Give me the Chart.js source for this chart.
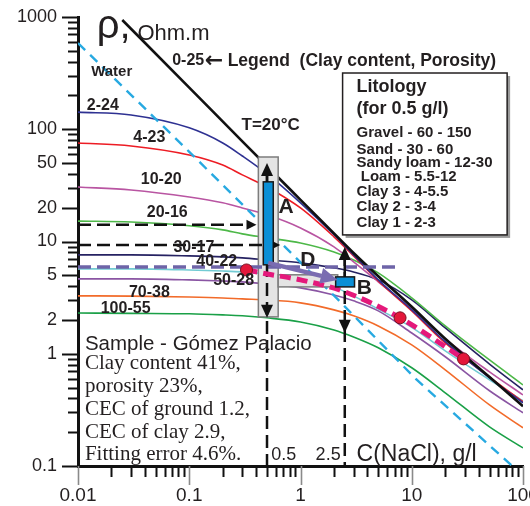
<!DOCTYPE html>
<html><head><meta charset="utf-8">
<script src="https://cdn.jsdelivr.net/npm/chart.js@4.4.1/dist/chart.umd.min.js"></script>
<style>html,body{margin:0;padding:0;background:#fff;overflow:hidden}#wrap{width:530px;height:506px;position:relative}</style>
</head><body><div id="wrap"><canvas id="c"></canvas></div>
<script>
// ---------------- DATA ----------------
const CONC = [0.01, 0.03, 0.1, 0.2, 0.3, 0.5, 1, 2, 3, 5, 10, 20, 50, 100];
const RHO_2_24   = [142, 134, 103, 75.5, 57.8, 40, 22.1, 11.5, 7.6, 4.55, 2.46, 1.28, 0.61, 0.366];
const RHO_4_23   = [75.5, 71, 59, 48, 39.2, 30.6, 19.9, 11.0, 7.45, 4.46, 2.41, 1.25, 0.62, 0.373];
const RHO_10_20  = [30.6, 28.8, 24.9, 22.1, 19.9, 17.3, 13.2, 8.96, 6.58, 4.37, 2.51, 1.36, 0.69, 0.43];
const RHO_20_16  = [15.2, 14.9, 13.8, 12.7, 11.7, 10.8, 9.7, 8.07, 6.85, 5.25, 3.15, 1.77, 0.88, 0.528];
const RHO_30_17  = [7.6, 7.6, 7.45, 7.3, 7.15, 6.85, 6.45, 5.82, 5.36, 4.55, 3.02, 1.70, 0.81, 0.477];
const RHO_40_22  = [5.7, 5.7, 5.58, 5.46, 5.36, 5.14, 4.74, 3.94, 3.28, 2.5, 1.72, 1.06, 0.586, 0.381];
const RHO_50_28  = [4.65, 4.65, 4.55, 4.45, 4.37, 4.19, 3.86, 3.34, 2.96, 2.41, 1.53, 0.94, 0.468, 0.298];
const RHO_70_38  = [3.28, 3.26, 3.2, 3.14, 3.08, 3.02, 2.84, 2.46, 2.18, 1.77, 1.2, 0.72, 0.35, 0.219];
const RHO_100_55 = [2.31, 2.29, 2.27, 2.22, 2.18, 2.09, 1.92, 1.63, 1.41, 1.13, 0.75, 0.449, 0.223, 0.145];

const CONC_0_25 = [0.025, 0.1, 0.3, 1, 2, 3, 5, 10, 20, 50, 100];
const RHO_0_25  = [940, 235, 78, 23.5, 11.8, 7.9, 4.9, 2.62, 1.36, 0.62, 0.34];

const CONC_WATER = [0.01, 0.1, 0.63, 2.2, 11, 100];
const RHO_WATER  = [586, 63, 10.3, 3.0, 0.59, 0.082];

const CONC_FIT = [0.327, 0.5, 1, 2.5, 7.85, 29.2];
const RHO_FIT  = [5.58, 5.14, 4.55, 3.56, 2.09, 0.90];

const CONC_SAMPLE = [0.327, 7.85, 29.2];
const RHO_SAMPLE  = [5.58, 2.09, 0.90];

const X_TICKS = [0.01, 0.1, 1, 10, 100];
const X_TICK_LABELS = ['0.01', '0.1', '1', '10', '100'];
const Y_TICKS = [0.1, 1, 2, 5, 10, 20, 50, 100, 1000];
const Y_TICK_LABELS = ['0.1', '1', '2', '5', '10', '20', '50', '100', '1000'];

const CURVE_NAMES = ['2-24', '4-23', '10-20', '20-16', '30-17', '40-22', '50-28', '70-38', '100-55'];
const LITOLOGY = ['Gravel - 60 - 150', 'Sand - 30 - 60', 'Sandy loam - 12-30', ' Loam - 5.5-12', 'Clay 3 - 4-5.5', 'Clay 2 - 3-4', 'Clay 1 - 2-3'];
const SAMPLE_LINES = ['Clay content 41%,', 'porosity 23%,', 'CEC of ground 1.2,', 'CEC of clay 2.9,', 'Fitting error 4.6%.'];

// ---------------- STYLE / PLACEMENT ----------------
const SANS = '"Liberation Sans", Arial, Helvetica, sans-serif';
const SERIF = '"Liberation Serif", "Times New Roman", Times, serif';
const CURVE_VALUES = [RHO_2_24, RHO_4_23, RHO_10_20, RHO_20_16, RHO_30_17, RHO_40_22, RHO_50_28, RHO_70_38, RHO_100_55];
const CURVE_COLORS = ['#2e3192', '#ed1c24', '#b955a2', '#4db848', '#262262', '#72cbd3', '#8a55a3', '#f26b2a', '#1aa047'];
// label anchors in data units (C, rho)
const CURVE_LABEL_AT = [[0.0167,164],[0.0438,83.6],[0.056,35.4],[0.0634,18.0],[0.110,8.77],[0.1767,6.58],[0.2505,4.46],[0.0438,3.49],[0.0268,2.51]];

const pts = (xs, ys) => xs.map((c, i) => ({x: c, y: ys[i]}));

const datasets = [];
CURVE_VALUES.forEach((vals, i) => datasets.push({
  label: CURVE_NAMES[i], data: pts(CONC, vals), borderColor: CURVE_COLORS[i],
  borderWidth: 1.6, pointRadius: 0, showLine: true, cubicInterpolationMode: 'monotone', order: 10
}));
datasets.push({label: '0-25', data: pts(CONC_0_25, RHO_0_25), borderColor: '#111', borderWidth: 2.6,
  pointRadius: 0, showLine: true, cubicInterpolationMode: 'monotone', order: 9});
datasets.push({label: 'Water', data: pts(CONC_WATER, RHO_WATER), borderColor: '#27a9e1', borderWidth: 2.4,
  borderDash: [10, 7], pointRadius: 0, showLine: true, tension: 0, order: 8});
const FIT_INDEX = datasets.length;
datasets.push({label: 'fit', data: pts(CONC_FIT, RHO_FIT), borderColor: '#e4197b', borderWidth: 5,
  borderDash: [11, 6], pointRadius: 0, showLine: true, cubicInterpolationMode: 'monotone', order: 2});
datasets.push({label: 'sample', data: pts(CONC_SAMPLE, RHO_SAMPLE), showLine: false, pointRadius: 6,
  pointBackgroundColor: '#e3173a', pointBorderColor: '#7a1020', pointBorderWidth: 1, order: 1});

function T(ctx, s, x, y, font, align, color, base) {
  ctx.save(); ctx.font = font; ctx.fillStyle = color || '#231f20';
  ctx.textAlign = align || 'left'; ctx.textBaseline = base || 'middle';
  ctx.fillText(s, x, y); ctx.restore();
}
function tri(ctx, p, color) {
  ctx.beginPath(); ctx.moveTo(p[0][0], p[0][1]);
  for (let i = 1; i < p.length; i++) ctx.lineTo(p[i][0], p[i][1]);
  ctx.closePath(); ctx.fillStyle = color; ctx.fill();
}
function dline(ctx, x1, y1, x2, y2, color, w, dash) {
  ctx.save(); ctx.beginPath(); ctx.setLineDash(dash || []); ctx.strokeStyle = color; ctx.lineWidth = w;
  ctx.moveTo(x1, y1); ctx.lineTo(x2, y2); ctx.stroke(); ctx.restore();
}
function rect(ctx, X, Y, c, r, fill, stroke, w) {
  const x1 = X(c[0]), x2 = X(c[1]), y1 = Y(r[1]), y2 = Y(r[0]);
  ctx.save(); ctx.fillStyle = fill; ctx.fillRect(x1, y1, x2 - x1, y2 - y1);
  ctx.strokeStyle = stroke; ctx.lineWidth = w; ctx.strokeRect(x1, y1, x2 - x1, y2 - y1); ctx.restore();
}

const overlay = {
  id: 'overlay',
  beforeDatasetDraw(chart, args) {
    if (args.index !== FIT_INDEX) return;
    const {ctx} = chart; const X = v => chart.scales.x.getPixelForValue(v), Y = v => chart.scales.y.getPixelForValue(v);
    rect(ctx, X, Y, [0.418, 0.63], [2.13, 56.6], '#e4e4e4', '#7d7d7d', 1.5);
    rect(ctx, X, Y, [0.63, 2.16], [3.94, 5.05], '#e4e4e4', '#7d7d7d', 1.5);
    const L = chart.chartArea.left, B = chart.chartArea.bottom;
    dline(ctx, L, Y(14.1), X(0.402) - 8, Y(14.1), '#111', 2.5, [13, 6]);
    dline(ctx, L, Y(9.33), X(0.657) - 6, Y(9.33), '#111', 2.5, [13, 6]);
    dline(ctx, L, Y(5.94), X(7.85), Y(5.94), '#6e64a8', 3.5, [13, 6]);
    dline(ctx, X(0.5), Y(50.1) + 6, X(0.5), B, '#111', 2.5, [13, 6]);
    dline(ctx, X(2.5), Y(8.95) + 6, X(2.5), B, '#111', 2.5, [13, 6]);
  },
  afterDatasetsDraw(chart) {
    const {ctx, chartArea: ca} = chart; const X = v => chart.scales.x.getPixelForValue(v), Y = v => chart.scales.y.getPixelForValue(v);
    // blue bars
    rect(ctx, X, Y, [0.463, 0.569], [6.2, 34], '#0b8fd6', '#1a1a1a', 1.5);
    rect(ctx, X, Y, [2.07, 3.06], [3.94, 4.84], '#0b8fd6', '#1a1a1a', 1.5);
    // arrowheads
    const up = (x, y) => tri(ctx, [[x, y], [x - 6, y + 13], [x + 6, y + 13]], '#111');
    const dn = (x, y) => tri(ctx, [[x, y], [x - 6, y - 13], [x + 6, y - 13]], '#111');
    const rt = (x, y, s) => tri(ctx, [[x, y], [x - s, y - s / 2], [x - s, y + s / 2]], '#111');
    dline(ctx, X(0.5), Y(50.1) + 6, X(0.5), Y(34), '#111', 2.5);
    up(X(0.5), Y(50.1)); dn(X(0.5), Y(2.09));
    up(X(2.5), Y(8.95)); dn(X(2.5), Y(1.535));
    dline(ctx, X(2.5), Y(8.95) + 6, X(2.5), Y(4.84), '#111', 2.5);
    rt(X(0.402), Y(14.1), 10); rt(X(0.657), Y(9.33), 7);
    // purple arrow D
    const ax1 = X(0.513), ay1 = Y(6.45), ax2 = X(2.16), ay2 = Y(4.55);
    const ang = Math.atan2(ay2 - ay1, ax2 - ax1), hl = 17, hw = 8;
    const bx = ax2 - hl * Math.cos(ang), by = ay2 - hl * Math.sin(ang);
    dline(ctx, ax1, ay1, bx, by, '#7a6cb1', 4.5);
    tri(ctx, [[ax2, ay2], [bx - hw * Math.sin(ang), by + hw * Math.cos(ang)], [bx + hw * Math.sin(ang), by - hw * Math.cos(ang)]], '#7a6cb1');
    // letters
    T(ctx, 'A', X(0.743), Y(20.3), 'bold 21px ' + SANS, 'center', '#231f20');
    T(ctx, 'D', X(1.166), Y(6.86), 'bold 21px ' + SANS, 'center', '#231f20');
    T(ctx, 'B', X(3.75), Y(3.86), 'bold 21px ' + SANS, 'center', '#231f20');
    // curve labels
    CURVE_NAMES.forEach((n, i) => T(ctx, n, X(CURVE_LABEL_AT[i][0]), Y(CURVE_LABEL_AT[i][1]), 'bold 16px ' + SANS, 'center'));
    T(ctx, 'Water', X(0.0201), Y(324), 'bold 15px ' + SANS, 'center');
    T(ctx, 'T=20°C', X(0.295), Y(109), 'bold 17px ' + SANS, 'left');
    T(ctx, '0-25', X(0.0702), Y(405), 'bold 16px ' + SANS, 'left');
    T(ctx, '←', X(0.138), Y(405), 'bold 22px "DejaVu Sans", sans-serif', 'left');
    T(ctx, 'Legend  (Clay content, Porosity)', X(0.2215), Y(405), 'bold 17.5px ' + SANS, 'left');
    T(ctx, 'ρ,', X(0.01476), Y(650), '40px ' + SANS, 'left', '#231f20', 'alphabetic');
    T(ctx, 'Ohm.m', X(0.0342), Y(624), '22px ' + SANS, 'left', '#231f20', 'alphabetic');
    // Litology box
    const bx1 = X(2.39), bx2 = X(72.0), by1 = Y(317), by2 = Y(11.45);
    ctx.save(); ctx.fillStyle = '#9a9a9a'; ctx.fillRect(bx1 + 3, by1 + 3, bx2 - bx1, by2 - by1);
    ctx.fillStyle = '#fff'; ctx.fillRect(bx1, by1, bx2 - bx1, by2 - by1);
    ctx.strokeStyle = '#231f20'; ctx.lineWidth = 1.5; ctx.strokeRect(bx1, by1, bx2 - bx1, by2 - by1); ctx.restore();
    T(ctx, 'Litology', bx1 + 14, by1 + 14, 'bold 18px ' + SANS);
    T(ctx, '(for 0.5 g/l)', bx1 + 14, by1 + 36, 'bold 18px ' + SANS);
    const offs = [60, 77, 90, 104, 119, 134, 150];
    LITOLOGY.forEach((s, i) => T(ctx, s, bx1 + 14, by1 + offs[i], 'bold 15px ' + SANS));
    // sample text
    const sx = X(0.01154), sy = Y(1.225);
    T(ctx, 'Sample - Gómez Palacio', sx, sy, '20.5px ' + SANS);
    const soffs = [20, 43, 66, 89, 111];
    SAMPLE_LINES.forEach((s, i) => T(ctx, s, sx, sy + soffs[i], '21px ' + SERIF));
    // axis title & markers
    T(ctx, 'C(NaCl), g/l', X(3.19), Y(0.1258), '23px ' + SANS);
    T(ctx, '0.5', X(0.546), Y(0.1258), '18px ' + SANS);
    T(ctx, '2.5', X(2.295), Y(0.1258), '18px ' + SANS, 'right');
    // tick marks
    ctx.save();
    for (let k = -1; k <= 3; k++) for (let m = 1; m <= 9; m++) {
      const v = m * Math.pow(10, k); if (v > 1000.0001) continue;
      const major = Y_TICKS.some(t => Math.abs(t - v) / t < 1e-6);
      const y = Math.round(Y(v)) + 0.5;
      dline(ctx, ca.left - (major ? 16 : 10), y, ca.left, y, '#111', 2);
    }
    for (let k = -2; k <= 2; k++) for (let m = 1; m <= 9; m++) {
      const v = m * Math.pow(10, k); if (v > 100.0001) continue;
      const x = Math.round(X(v)) + 0.5;
      if (m === 1) dline(ctx, x, ca.bottom, x, ca.bottom + 19, '#8a8a8a', 1.6);
      else dline(ctx, x, ca.bottom, x, ca.bottom + 11, '#111', 2);
    }
    ctx.restore();
  }
};

new Chart(document.getElementById('c'), {
  type: 'scatter',
  data: {datasets},
  options: {
    responsive: true, maintainAspectRatio: false, animation: false,
    layout: {padding: {top: 17, right: 3, left: 0, bottom: 0}},
    plugins: {legend: {display: false}, tooltip: {enabled: false}},
    scales: {
      x: {
        type: 'logarithmic', min: 0.01, max: 100,
        grid: {display: false, drawTicks: false},
        border: {display: true, color: '#111', width: 3},
        ticks: {autoSkip: false, maxRotation: 0, padding: 18, color: '#231f20',
          font: {family: SANS, size: 19}, callback: (v, i) => X_TICK_LABELS[i]},
        afterBuildTicks: s => { s.ticks = X_TICKS.map(v => ({value: v})); },
        afterFit: s => { s.height = 40; s.paddingLeft = 0; s.paddingRight = 0; }
      },
      y: {
        type: 'logarithmic', min: 0.1, max: 1000,
        grid: {display: false, drawTicks: false},
        border: {display: true, color: '#111', width: 3},
        ticks: {autoSkip: false, padding: 21, color: '#231f20',
          font: {family: SANS, size: 18}, callback: (v, i) => Y_TICK_LABELS[i]},
        afterBuildTicks: s => { s.ticks = Y_TICKS.map(v => ({value: v})); },
        afterFit: s => { s.width = 78; s.paddingTop = 0; s.paddingBottom = 0; }
      }
    }
  },
  plugins: [overlay]
});
</script></body></html>
